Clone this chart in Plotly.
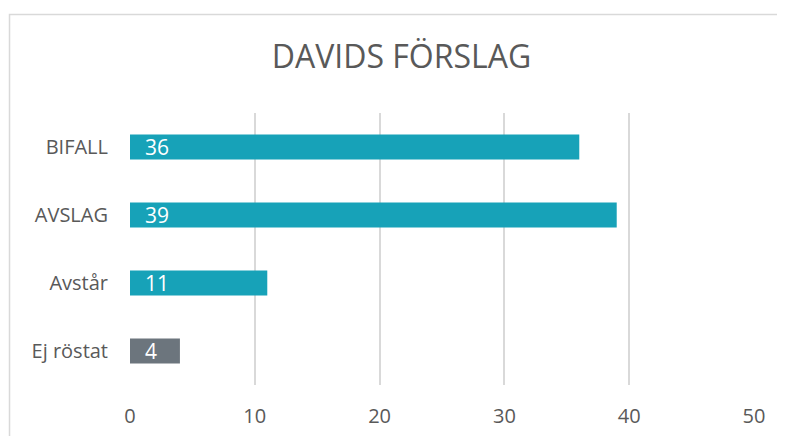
import plotly.graph_objects as go

categories = ["BIFALL", "AVSLAG", "Avstår", "Ej röstat"]
values = [36, 39, 11, 4]
bar_colors = ["#17a2b8", "#17a2b8", "#17a2b8", "#6c757d"]
x_ticks = [0, 10, 20, 30, 40, 50]
title_text = "DAVIDS FÖRSLAG"

FONT = "Open Sans"
GRAY = "#595959"
OFF = 8  # page body margin in the viewer

W, H = 785 - OFF, 436 - OFF

fig = go.Figure()
fig.add_trace(go.Bar(
    y=categories, x=values, orientation="h",
    marker=dict(color=bar_colors, line=dict(width=0)),
    width=0.37, hoverinfo="skip",
))

for c, v in zip(categories, values):
    fig.add_annotation(x=0, y=c, text=str(v), showarrow=False,
                       xanchor="left", yanchor="middle", xshift=13,
                       font=dict(family=FONT, size=21, color="white"))

fig.add_shape(type="rect", xref="paper", yref="paper",
              x0=-0.1931, x1=1.2, y0=-0.4, y1=1.3621,
              line=dict(color="#d9d9d9", width=1.5), fillcolor="rgba(0,0,0,0)",
              layer="below")

fig.update_layout(
    width=W, height=H,
    margin=dict(l=130 - OFF, r=31, t=113 - OFF, b=51, autoexpand=False),
    paper_bgcolor="white", plot_bgcolor="white",
    showlegend=False,
    title=dict(text=title_text, x=(401.5 - OFF) / W, xref="container", xanchor="center",
               y=1 - (57 - OFF) / H, yref="container", yanchor="middle",
               font=dict(family=FONT, size=32, color=GRAY)),
    xaxis=dict(range=[0, 50], tickvals=x_ticks, showgrid=True, gridcolor="#d9d9d9",
               gridwidth=1.5, zeroline=False, showline=False, automargin=False,
               ticks="outside", ticklen=13, tickcolor="rgba(0,0,0,0)",
               tickfont=dict(family=FONT, size=20, color=GRAY), fixedrange=True),
    yaxis=dict(categoryorder="array", categoryarray=categories, autorange="reversed",
               showgrid=False, zeroline=False, showline=False, automargin=False,
               ticks="outside", ticklen=17, tickcolor="rgba(0,0,0,0)",
               tickfont=dict(family=FONT, size=20, color=GRAY), fixedrange=True),
)

fig.write_html("out.html")
